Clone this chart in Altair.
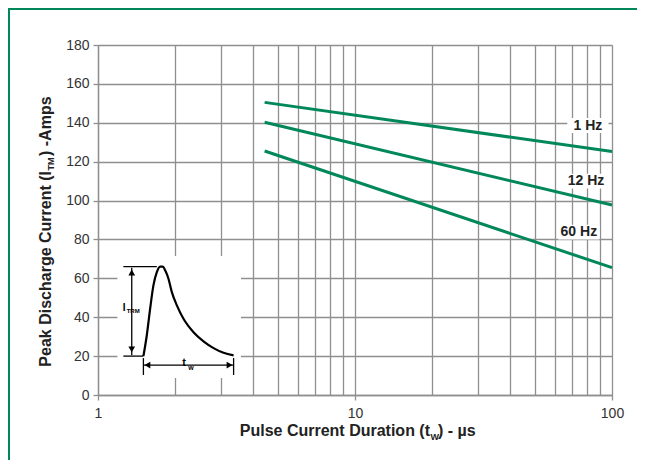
import altair as alt
import pandas as pd

# ---- data ----
series = ["1 Hz", "12 Hz", "60 Hz"]
x_start = [4.45, 4.45, 4.45]
x_end = [100, 100, 100]
y_start = [150.5, 140.3, 125.5]
y_end = [125.2, 97.7, 65.5]
label_x = [80.6, 79.2, 74.3]
label_y = [138.6, 110.0, 83.8]

x_grid = [1, 2, 3, 4, 5, 6, 7, 8, 9, 10, 20, 30, 40, 50, 60, 70, 80, 90, 100]
y_grid = [0, 20, 40, 60, 80, 100, 120, 140, 160, 180]

# inset pulse sketch (in chart data units)
pulse_x = [1.502, 1.548, 1.595, 1.643, 1.694, 1.745, 1.788, 1.825, 1.880, 1.938,
           2.027, 2.151, 2.353, 2.574, 2.816, 3.080, 3.370]
pulse_y = [20, 30.6, 44.3, 56.4, 63.2, 66, 66, 64.1, 59.8, 52.9,
           46.1, 39.2, 32.3, 27.6, 24.1, 21.7, 20.4]
inset_box_x = [1.19, 3.6]
inset_box_y = [8.7, 71.5]

GREEN = "#00875a"
GRID = "#8f8f8f"
FONT = "Liberation Sans"

lines_df = pd.DataFrame({
    "series": series * 2,
    "x": x_start + x_end,
    "y": y_start + y_end,
})
labels_df = pd.DataFrame({"series": series, "x": label_x, "y": label_y})

xscale = alt.Scale(type="log", domain=[1, 100], nice=False)
yscale = alt.Scale(domain=[0, 180], nice=False)

major_test = "datum.value == 1 || datum.value == 10 || datum.value == 100"
x_axis = alt.Axis(
    values=x_grid, title=None, grid=True, gridColor=GRID, gridWidth=1.3,
    domainColor=GRID, domainWidth=1.3,
    tickColor={"condition": {"test": major_test, "value": GRID}, "value": "transparent"},
    tickSize=5, tickWidth=1.3,
    labelExpr=f"({major_test}) ? format(datum.value, 'd') : ''",
    labelFlush=False, labelOverlap=False, labelPadding=6,
    labelFont=FONT, labelFontSize=14, labelColor="#333333",
)
y_axis = alt.Axis(
    values=y_grid, title=None, grid=True, gridColor=GRID, gridWidth=1.3,
    domainColor=GRID, domainWidth=1.3, tickColor=GRID, tickSize=5, tickWidth=1.3,
    labelOverlap=False, labelFlush=False,
    labelPadding=4, labelFont=FONT, labelFontSize=14, labelColor="#333333",
)

X = alt.X("x:Q", scale=xscale, axis=x_axis)
Y = alt.Y("y:Q", scale=yscale, axis=y_axis)

one = pd.DataFrame({"a": [0]})

# green frame (decoration)
frame_top = alt.Chart(one).mark_rule(color=GREEN, strokeWidth=2).encode(
    x=alt.value(-90), x2=alt.value(539), y=alt.value(-36))
frame_left = alt.Chart(one).mark_rule(color=GREEN, strokeWidth=2).encode(
    x=alt.value(-89), y=alt.value(-37), y2=alt.value(415))

# inset white background hiding the grid
inset_bg = alt.Chart(pd.DataFrame({
    "x": [inset_box_x[0]], "x2": [inset_box_x[1]],
    "y": [inset_box_y[0]], "y2": [inset_box_y[1]]})).mark_rect(color="white").encode(
    x=X, x2="x2", y=Y, y2="y2")

# white boxes behind the curve labels
label_boxes = alt.Chart(labels_df).mark_point(
    shape="M-1,-0.36H1V0.36H-1Z", filled=True, fill="white", opacity=1,
    strokeWidth=0, size=1700).encode(x=X, y=Y)

lines = alt.Chart(lines_df).mark_line(color=GREEN, strokeWidth=3).encode(
    x=X, y=Y, detail="series:N")

label_text = alt.Chart(labels_df).mark_text(
    font=FONT, fontSize=14, fontWeight="bold", color="#222222").encode(
    x=X, y=Y, text="series:N")

# inset sketch
pulse_df = pd.DataFrame({"x": pulse_x, "y": pulse_y, "i": list(range(len(pulse_x)))})
pulse = alt.Chart(pulse_df).mark_line(color="black", strokeWidth=2.2, interpolate="monotone").encode(
    x=X, y=Y, order="i:Q")

seg_df = pd.DataFrame({
    "x":  [1.353, 1.255, 1.255, 1.502, 3.370, 1.502],
    "x2": [1.353, 1.694, 1.502, 1.502, 3.370, 3.370],
    "y":  [20.5, 66, 20, 10.3, 10.3, 15.4],
    "y2": [65.5, 66, 20, 19.0, 19.0, 15.4],
})
segs = alt.Chart(seg_df).mark_rule(color="black", strokeWidth=1.3).encode(
    x=X, x2="x2", y=Y, y2="y2")

heads_df = pd.DataFrame({
    "x": [1.353, 1.353, 1.557, 3.25],
    "y": [63.0, 23.5, 15.4, 15.4],
    "shape": ["triangle-up", "triangle-down", "triangle-left", "triangle-right"],
})
heads = alt.Chart(heads_df).mark_point(filled=True, color="black", opacity=1, size=45).encode(
    x=X, y=Y, shape=alt.Shape("shape:N", scale=None))

inset_label_boxes = alt.Chart(pd.DataFrame({"x": [1.339, 2.224], "y": [44.5, 15.4]})).mark_point(
    shape="M-1,-0.65H1V0.65H-1Z", filled=True, fill="white", opacity=1,
    strokeWidth=0, size=420).encode(x=X, y=Y)

i_big = alt.Chart(pd.DataFrame({"x": [1.265], "y": [44.5], "t": ["I"]})).mark_text(
    font=FONT, fontSize=10, fontWeight="bold", color="black").encode(x=X, y=Y, text="t:N")
i_sub = alt.Chart(pd.DataFrame({"x": [1.37], "y": [43.2], "t": ["TRM"]})).mark_text(
    font=FONT, fontSize=6, fontWeight="bold", color="black").encode(x=X, y=Y, text="t:N")
t_big = alt.Chart(pd.DataFrame({"x": [2.164], "y": [16.4], "t": ["t"]})).mark_text(
    font=FONT, fontSize=11, fontWeight="bold", color="black").encode(x=X, y=Y, text="t:N")
t_sub = alt.Chart(pd.DataFrame({"x": [2.30], "y": [14.0], "t": ["w"]})).mark_text(
    font=FONT, fontSize=7, fontWeight="bold", color="black").encode(x=X, y=Y, text="t:N")

# axis titles with subscripts, built from text pieces
def txt(s, x, y, size, align, angle=0):
    return alt.Chart(pd.DataFrame({"t": [s]})).mark_text(
        font=FONT, fontSize=size, fontWeight="bold", color="#222222",
        align=align, baseline="middle", angle=angle).encode(
        x=alt.value(x), y=alt.value(y), text="t:N")

xt1 = txt("Pulse Current Duration (t", 332, 386, 16, "right")
xt2 = txt("W", 332.5, 392, 9, "left")
xt3 = txt(") - µs", 340, 386, 16, "left")

yt1 = txt("Peak Discharge Current (I", -52, 126, 16, "right", 270)
yt2 = txt("TM", -47, 125.5, 9, "left", 270)
yt3 = txt(") -Amps", -52, 111, 16, "left", 270)

chart = alt.layer(
    lines, frame_top, frame_left, inset_bg, label_boxes, label_text,
    inset_label_boxes, segs, heads, pulse, i_big, i_sub, t_big, t_sub,
    xt1, xt2, xt3, yt1, yt2, yt3,
).properties(
    width=514, height=350,
    autosize=alt.AutoSizeParams(type="none"),
    padding={"left": 90, "top": 37, "right": 25, "bottom": 65},
).configure_view(stroke=None)

chart.save("out.html", embed_options={"renderer": "svg", "actions": False})
